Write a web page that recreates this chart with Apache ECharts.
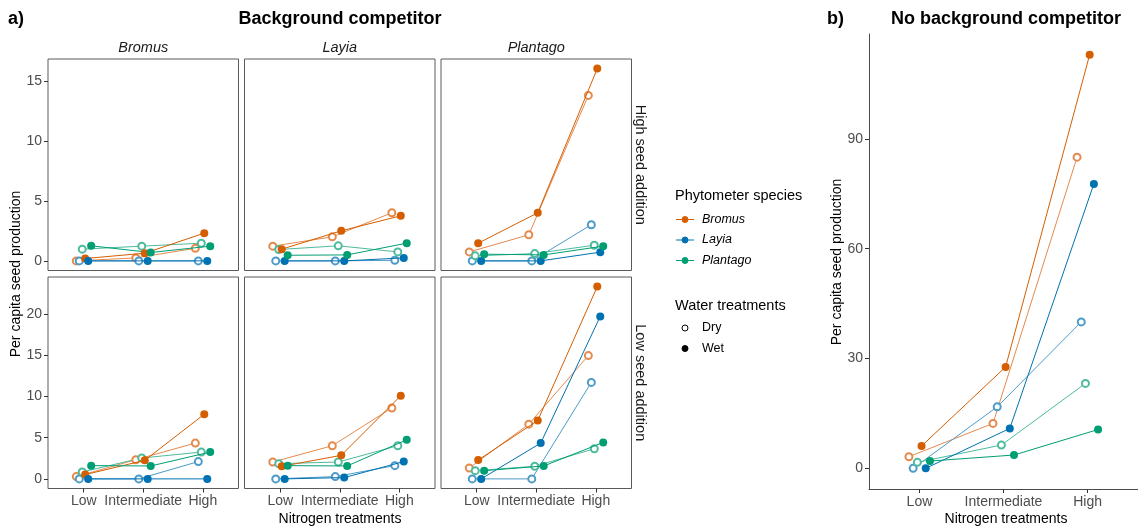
<!DOCTYPE html>
<html>
<head>
<meta charset="utf-8">
<script src="https://cdn.jsdelivr.net/npm/echarts@6/dist/echarts.min.js"></script>
<style>
  html, body { margin: 0; padding: 0; background: #ffffff; }
  #chart { width: 1138px; height: 531px; }
</style>
</head>
<body>
<div id="chart"></div>
<script>
// Nitrogen levels on the x axis, phytometer species (one line per species and water treatment)
const nitrogen = ['Low', 'Intermediate', 'High'];
const species = ['Bromus', 'Layia', 'Plantago'];
const speciesColors = ['#D55E00', '#0072B2', '#009E73'];
const dryColors = ['#E58A4D', '#4D9BC9', '#4DBB9D'];
const competitors = ['Bromus', 'Layia', 'Plantago'];
const waterLevels = ['Dry', 'Wet'];

// Per capita seed production; each row = phytometer species (Bromus, Layia, Plantago),
// columns = nitrogen Low, Intermediate, High.
// Background competitor, high seed addition
const highSeedBromusDry   = [[0.00, 0.25, 1.05], [0.00, 0.00, 0.00], [0.98, 1.23, 1.48]];
const highSeedBromusWet   = [[0.20, 0.64, 2.32], [0.00, 0.00, 0.00], [1.26, 0.70, 1.23]];
const highSeedLayiaDry    = [[1.23, 2.01, 4.02], [0.00, 0.00, 0.05], [0.95, 1.26, 0.75]];
const highSeedLayiaWet    = [[0.98, 2.51, 3.77], [0.00, 0.00, 0.25], [0.47, 0.50, 1.48]];
const highSeedPlantagoDry = [[0.75, 2.18, 13.83], [0.00, 0.00, 3.02], [0.42, 0.61, 1.31]];
const highSeedPlantagoWet = [[1.48, 4.02, 16.07], [0.00, 0.00, 0.73], [0.56, 0.50, 1.23]];
// Background competitor, low seed addition
const lowSeedBromusDry    = [[0.28, 2.33, 4.35], [0.00, 0.00, 2.10], [0.84, 2.54, 3.26]];
const lowSeedBromusWet    = [[0.52, 2.25, 7.86], [0.00, 0.00, 0.00], [1.61, 1.57, 3.26]];
const lowSeedLayiaDry     = [[2.05, 4.03, 8.62], [0.00, 0.28, 1.61], [1.85, 2.05, 4.03]];
const lowSeedLayiaWet     = [[1.53, 2.86, 10.11], [0.00, 0.16, 2.10], [1.61, 1.57, 4.75]];
const lowSeedPlantagoDry  = [[1.33, 6.65, 14.99], [0.00, 0.00, 11.73], [1.00, 1.53, 3.66]];
const lowSeedPlantagoWet  = [[2.29, 7.09, 23.37], [0.00, 4.35, 19.75], [1.00, 1.57, 4.43]];
// No background competitor
const noCompetitorDry     = [[3.17, 12.27, 85.0], [0.00, 16.8, 40.0], [1.63, 6.35, 23.2]];
const noCompetitorWet     = [[6.08, 27.7, 113.0], [0.00, 10.9, 77.7], [1.99, 3.63, 10.6]];

// Tick labels
const topRowTicks = [0, 5, 10, 15];
const bottomRowTicks = [0, 5, 10, 15, 20];
const rightPanelTicks = [0, 30, 60, 90];

const FONT = '"Liberation Sans", Arial, Helvetica, sans-serif';
const AXIS_TEXT = '#4D4D4D';

// value range with 5% padding on both sides (data start at zero)
function paddedRange(sets) {
  let mx = 0;
  sets.forEach(s => s.forEach(row => row.forEach(v => { if (v > mx) mx = v; })));
  const pad = mx * 0.05;
  return { min: -pad, max: mx + pad };
}
const topRange = paddedRange([highSeedBromusDry, highSeedBromusWet, highSeedLayiaDry,
  highSeedLayiaWet, highSeedPlantagoDry, highSeedPlantagoWet]);
const bottomRange = paddedRange([lowSeedBromusDry, lowSeedBromusWet, lowSeedLayiaDry,
  lowSeedLayiaWet, lowSeedPlantagoDry, lowSeedPlantagoWet]);
const rightRange = paddedRange([noCompetitorDry, noCompetitorWet]);

// panel layout
const colLeft = [48, 244.5, 441];
const colWidth = 190.5;
const rowTop = [59, 277];
const rowHeight = 211.5;

const panels = [
  { dry: highSeedBromusDry,   wet: highSeedBromusWet,   col: 0, row: 0 },
  { dry: highSeedLayiaDry,    wet: highSeedLayiaWet,    col: 1, row: 0 },
  { dry: highSeedPlantagoDry, wet: highSeedPlantagoWet, col: 2, row: 0 },
  { dry: lowSeedBromusDry,    wet: lowSeedBromusWet,    col: 0, row: 1 },
  { dry: lowSeedLayiaDry,     wet: lowSeedLayiaWet,     col: 1, row: 1 },
  { dry: lowSeedPlantagoDry,  wet: lowSeedPlantagoWet,  col: 2, row: 1 },
  { dry: noCompetitorDry,     wet: noCompetitorWet,     single: true }
];

const grids = [], xAxes = [], yAxes = [], series = [];

panels.forEach((p, i) => {
  if (p.single) {
    grids.push({ left: 869, top: 34, width: 275, height: 455, show: false });
  } else {
    grids.push({
      left: colLeft[p.col], top: rowTop[p.row], width: colWidth, height: rowHeight,
      show: true, borderColor: '#5a5a5a', borderWidth: 1, backgroundColor: 'transparent'
    });
  }
  const showX = p.single || p.row === 1;
  const showY = p.single || p.col === 0;
  const range = p.single ? rightRange : (p.row === 0 ? topRange : bottomRange);
  const yTicks = p.single ? rightPanelTicks : (p.row === 0 ? topRowTicks : bottomRowTicks);

  xAxes.push({
    type: 'value', gridIndex: i, min: 0.4, max: 3.6,
    axisLine: { show: !!p.single, onZero: false, lineStyle: { color: '#4a4a4a', width: 1 } },
    axisTick: { show: showX, length: 4, customValues: [1, 2, 3], lineStyle: { color: '#333333' } },
    axisLabel: {
      show: showX, customValues: [1, 2, 3], margin: 6,
      formatter: v => nitrogen[Math.round(v) - 1],
      color: AXIS_TEXT, fontSize: 14, fontFamily: FONT
    },
    splitLine: { show: false }
  });
  yAxes.push({
    type: 'value', gridIndex: i, min: range.min, max: range.max,
    axisLine: { show: !!p.single, onZero: false, lineStyle: { color: '#4a4a4a', width: 1 } },
    axisTick: { show: showY, length: 4, customValues: yTicks, lineStyle: { color: '#333333' } },
    axisLabel: {
      show: showY, customValues: yTicks, margin: 6,
      color: AXIS_TEXT, fontSize: 14, fontFamily: FONT
    },
    splitLine: { show: false }
  });

  [p.dry, p.wet].forEach((set, w) => {
    set.forEach((vals, s) => {
      const offset = (w * 3 + s - 2.5) * 0.05;
      const col = w === 0 ? dryColors[s] : speciesColors[s];
      series.push({
        type: 'line',
        name: species[s] + ' ' + waterLevels[w],
        xAxisIndex: i, yAxisIndex: i,
        data: vals.map((v, k) => [k + 1 + offset, v]),
        symbol: w === 0 ? 'emptyCircle' : 'circle',
        symbolSize: w === 0 ? 7 : 8,
        showSymbol: true,
        showAllSymbol: true,
        lineStyle: { color: col, width: 1 },
        itemStyle: { color: col, borderWidth: w === 0 ? 1.2 : 0 },
        emphasis: { disabled: true },
        silent: true,
        z: 2 + w
      });
    });
  });
});

// text and legend drawn on top of the grids
const graphics = [];
function text(str, x, y, opts) {
  const o = opts || {};
  graphics.push({
    type: 'text', x: x, y: y, rotation: o.rotation || 0, silent: true, z: 10,
    style: {
      text: str,
      fontFamily: FONT,
      fontSize: o.size || 14,
      fontWeight: o.weight || 'normal',
      fontStyle: o.style || 'normal',
      fill: o.color || '#000000',
      align: o.align || 'center',
      verticalAlign: 'middle'
    }
  });
}

text('a)', 8, 19, { size: 18, weight: 'bold', align: 'left' });
text('Background competitor', 340, 19, { size: 18, weight: 'bold' });
text('b)', 827, 19, { size: 18, weight: 'bold', align: 'left' });
text('No background competitor', 1006, 19, { size: 18, weight: 'bold' });

competitors.forEach((c, k) => {
  text(c, colLeft[k] + colWidth / 2, 47.5, { size: 14.5, style: 'italic', color: '#1a1a1a' });
});
text('High seed addition', 640, rowTop[0] + rowHeight / 2, { size: 14.5, rotation: -Math.PI / 2, color: '#1a1a1a' });
text('Low seed addition', 640, rowTop[1] + rowHeight / 2, { size: 14.5, rotation: -Math.PI / 2, color: '#1a1a1a' });

text('Per capita seed production', 16, 274, { size: 14, rotation: Math.PI / 2 });
text('Per capita seed production', 837, 262, { size: 14, rotation: Math.PI / 2 });
text('Nitrogen treatments', 340, 519, { size: 14 });
text('Nitrogen treatments', 1006, 519, { size: 14 });

// legend: phytometer species
text('Phytometer species', 675, 196, { size: 14.5, align: 'left' });
species.forEach((sp, k) => {
  const y = 219.5 + k * 20.5;
  graphics.push({ type: 'line', silent: true, z: 10,
    shape: { x1: 676, y1: y, x2: 694, y2: y },
    style: { stroke: speciesColors[k], lineWidth: 1 } });
  graphics.push({ type: 'circle', silent: true, z: 11,
    shape: { cx: 685, cy: y, r: 3 },
    style: { fill: speciesColors[k], stroke: speciesColors[k], lineWidth: 1 } });
  text(sp, 702, y, { size: 12.5, style: 'italic', align: 'left' });
});

// legend: water treatments
text('Water treatments', 675, 306, { size: 14.5, align: 'left' });
waterLevels.forEach((wl, k) => {
  const y = 328 + k * 20.5;
  graphics.push({ type: 'circle', silent: true, z: 11,
    shape: { cx: 685, cy: y, r: 3 },
    style: { fill: k === 0 ? '#ffffff' : '#000000', stroke: '#000000', lineWidth: 1 } });
  text(wl, 702, y, { size: 12.5, align: 'left' });
});

const chart = echarts.init(document.getElementById('chart'), null, { renderer: 'canvas' });
chart.setOption({
  backgroundColor: '#ffffff',
  animation: false,
  grid: grids,
  xAxis: xAxes,
  yAxis: yAxes,
  series: series,
  graphic: graphics
});
</script>
</body>
</html>
